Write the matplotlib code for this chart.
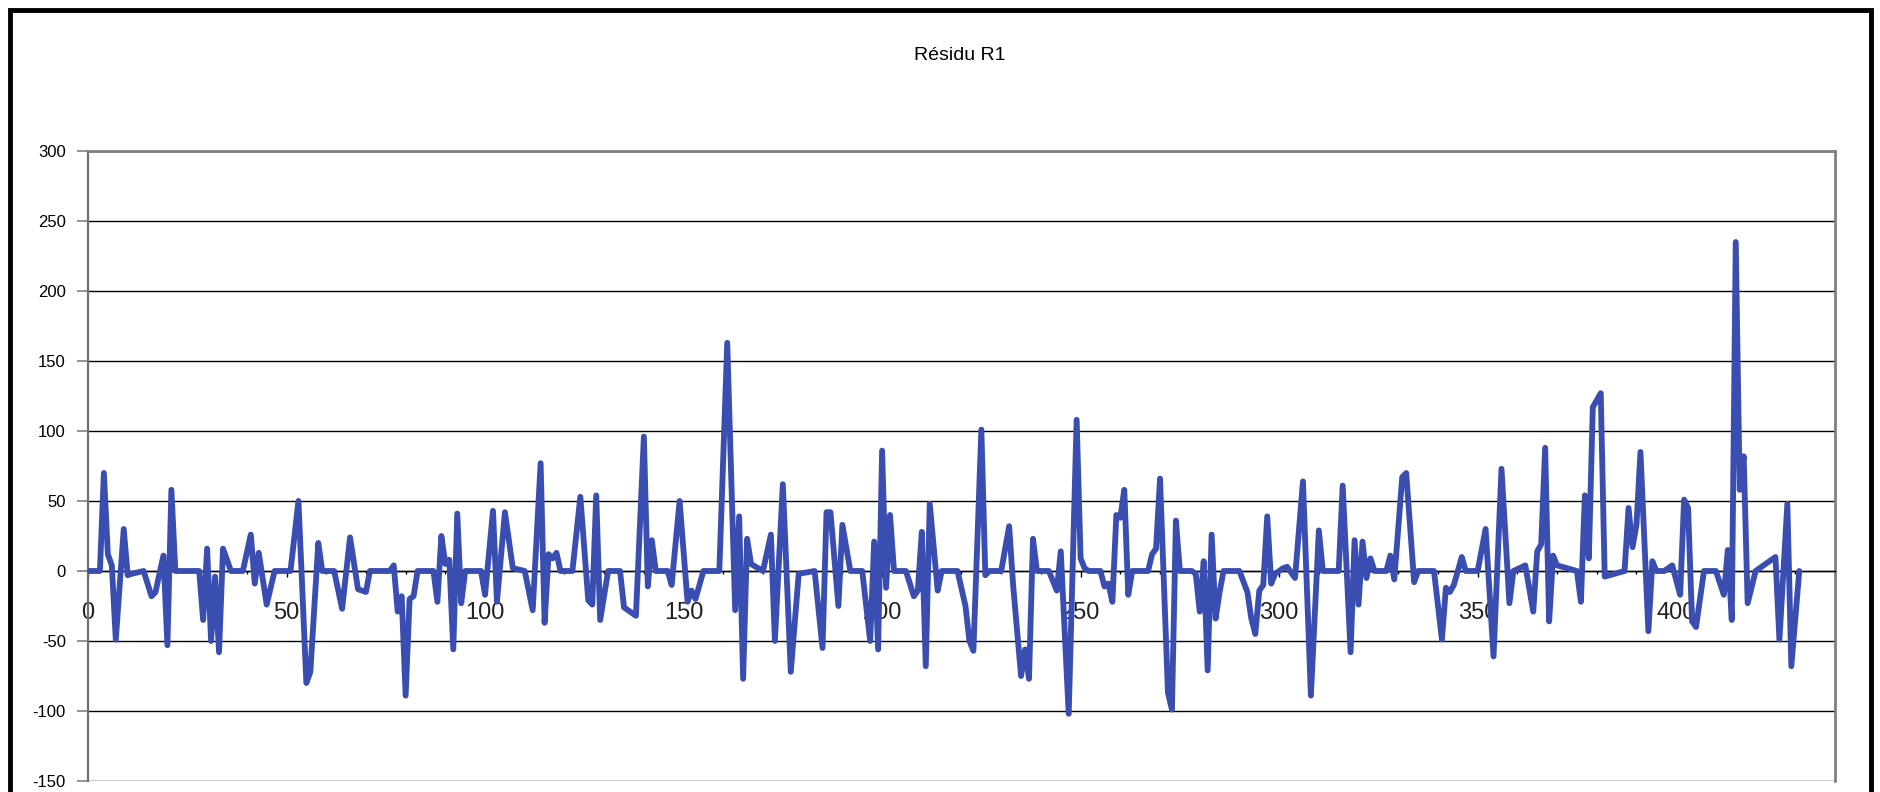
import matplotlib
matplotlib.use("Agg")
import matplotlib.pyplot as plt
from matplotlib.ticker import MultipleLocator
from matplotlib.patches import Rectangle

plt.rcParams['font.family'] = ['Liberation Sans', 'DejaVu Sans']

title = "Résidu R1"
x_ticks = [0, 50, 100, 150, 200, 250, 300, 350, 400]
y_ticks = [-150, -100, -50, 0, 50, 100, 150, 200, 250, 300]

# vertices of the residual series (observation index, residual value)
residu_index = [
    0, 3, 4, 5, 6, 7, 9, 10, 11, 14, 16, 17, 19, 20, 21, 22, 28, 29, 30, 31,
    32, 33, 34, 35, 36, 39, 41, 42, 43, 45, 47, 51, 53, 55, 56, 58, 59, 62, 64, 66,
    68, 70, 71, 76, 77, 78, 79, 80, 81, 82, 83, 87, 88, 89, 90, 91, 92, 93, 94, 95,
    99, 100, 102, 103, 105, 107, 110, 112, 114, 115, 116, 117, 118, 119, 122, 124, 126, 127, 128, 129,
    131, 134, 135, 138, 140, 141, 142, 143, 146, 147, 149, 151, 152, 153, 155, 159, 161, 163, 164, 165,
    166, 167, 170, 172, 173, 175, 177, 179, 183, 185, 186, 187, 189, 190, 192, 195, 197, 198, 199, 200,
    201, 202, 203, 206, 208, 209, 210, 211, 212, 214, 215, 219, 221, 222, 223, 225, 226, 227, 230, 232,
    233, 235, 236, 237, 238, 239, 242, 244, 245, 247, 249, 250, 251, 252, 255, 256, 257, 258, 259, 260,
    261, 262, 263, 267, 268, 269, 270, 272, 273, 274, 275, 278, 279, 280, 281, 282, 283, 284, 285, 286,
    290, 292, 293, 294, 295, 296, 297, 298, 299, 300, 301, 302, 304, 306, 308, 310, 311, 315, 316, 318,
    319, 320, 321, 322, 323, 324, 327, 328, 329, 331, 332, 334, 335, 339, 341, 342, 343, 344, 346, 347,
    350, 352, 354, 356, 358, 359, 362, 364, 365, 366, 367, 368, 369, 370, 375, 376, 377, 378, 379, 381,
    382, 387, 388, 389, 390, 391, 393, 394, 395, 397, 399, 401, 402, 403, 404, 405, 407, 410, 412, 413,
    414, 415, 416, 417, 418, 420, 421, 422, 424, 425, 426, 428, 429, 431,
]
residu_value = [
    0, 0, 70, 12, 4, -49, 30, -3, -2, 0, -18, -15, 11, -53, 58, 0, 0, -35, 16, -50,
    -4, -58, 16, 8, 0, 0, 26, -9, 13, -24, 0, 0, 50, -80, -72, 20, 0, 0, -27, 24,
    -13, -15, 0, 0, 4, -29, -18, -89, -20, -18, 0, 0, -22, 25, 5, 8, -56, 41, -23, 0,
    0, -17, 43, -22, 42, 2, 0, -28, 77, -37, 12, 9, 13, 0, 0, 53, -21, -24, 54, -35,
    0, 0, -26, -32, 96, -11, 22, 0, 0, -10, 50, -22, -14, -20, 0, 0, 163, -28, 39, -77,
    23, 5, 0, 26, -50, 62, -72, -2, 0, -55, 42, 42, -25, 33, 0, 0, -50, 21, -56, 86,
    -12, 40, 0, 0, -18, -14, 28, -68, 48, -14, 0, 0, -25, -50, -57, 101, -3, 0, 0, 32,
    -10, -75, -56, -77, 23, 0, 0, -14, 14, -102, 108, 9, 2, 0, 0, -11, -9, -22, 40, 38,
    58, -17, 0, 0, 12, 16, 66, -87, -99, 36, 0, 0, -2, -29, 7, -71, 26, -34, -15, 0,
    0, -15, -34, -45, -14, -10, 39, -9, -2, 0, 2, 3, -5, 64, -89, 29, 0, 0, 61, -58,
    22, -24, 21, -5, 9, 0, 0, 11, -6, 67, 70, -8, 0, 0, -49, -12, -15, -10, 10, 0,
    0, 30, -61, 73, -23, 0, 4, -29, 14, 19, 88, -36, 11, 4, 0, -22, 54, 9, 117, 127,
    -4, 0, 45, 17, 33, 85, -43, 7, 0, 0, 4, -17, 51, 45, -36, -40, 0, 0, -17, 15,
    -35, 235, 58, 82, -23, 0, 2, 4, 8, 10, -49, 48, -68, 0,
]

W, H = 1881, 792
fig = plt.figure(figsize=(W / 100, H / 100), dpi=100)
fig.patch.set_facecolor('white')

left, right, top, bottom = 88, 1835, 151, 781
ax = fig.add_axes([left / W, 1 - bottom / H, (right - left) / W, (bottom - top) / H])

ax.plot(residu_index, residu_value, color='#3A4DB1', lw=4.2,
        solid_joinstyle='round', solid_capstyle='round', zorder=3)

ax.set_xlim(0, 440)
ax.set_ylim(-150, 300)
ax.set_yticks(y_ticks)
ax.set_yticklabels([str(v) for v in y_ticks])
ax.set_xticks(x_ticks)
ax.set_xticklabels([str(v) for v in x_ticks])
ax.xaxis.set_minor_locator(MultipleLocator(10))

ax.yaxis.grid(True, color='black', lw=1.0)
ax.set_axisbelow(True)

for s in ['top', 'right']:
    ax.spines[s].set_color('#808080')
    ax.spines[s].set_linewidth(2)
ax.spines['left'].set_color('#707070')
ax.spines['left'].set_linewidth(1.6)
ax.spines['bottom'].set_position(('data', 0))
ax.spines['bottom'].set_color('black')
ax.spines['bottom'].set_linewidth(1.0)

ax.tick_params(axis='y', direction='out', length=8, width=1.2, color='#808080',
               pad=8, labelsize=12, labelcolor='black')
ax.tick_params(axis='x', which='major', direction='out', length=4, width=1, color='black',
               pad=18, labelsize=17, labelcolor='#222222')
ax.tick_params(axis='x', which='minor', direction='out', length=2.5, width=1, color='black')

fig.text(960 / W, 1 - 56 / H, title, ha='center', va='center', fontsize=14, color='black')

fig.add_artist(Rectangle((10 / W, -0.05), (1871 - 10) / W, 1.05 - 10 / H,
                         transform=fig.transFigure, fill=False,
                         edgecolor='black', lw=3.5, zorder=10))

fig.savefig('out.png', dpi=100, facecolor='white')
